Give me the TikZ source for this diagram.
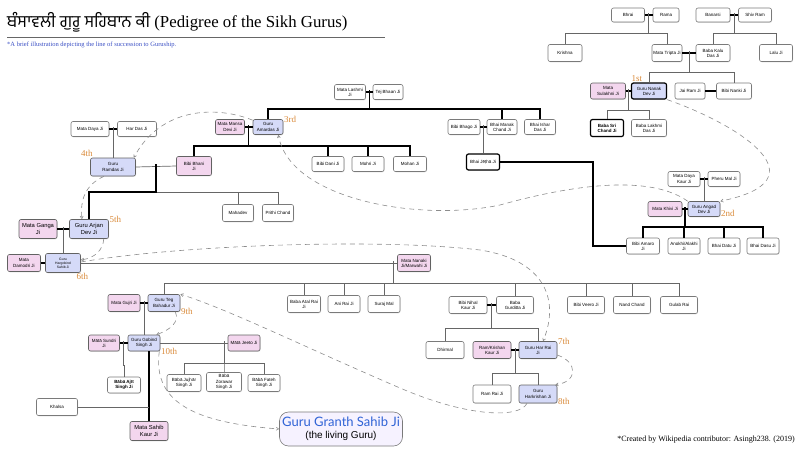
\documentclass[tikz,border=0pt]{standalone}
\usepackage{fontspec}
\setmainfont{Liberation Serif}
\setsansfont{Liberation Sans}
\newfontfamily\gurmukhi[Script=Gurmukhi]{Hind Jalandhar}
\newfontfamily\granthfont{Lato}
\usetikzlibrary{arrows.meta, calc, shadows}
\definecolor{wifefill}{HTML}{F3D6EE}
\definecolor{gurufill}{HTML}{D5DAF8}
\definecolor{boxline}{HTML}{7A7A7A}
\definecolor{ordinal}{HTML}{D98A3A}
\definecolor{subblue}{HTML}{3A4FC4}
\definecolor{granthblue}{HTML}{2F63D6}
\definecolor{granthfill}{HTML}{F6F2FF}
% children hang from a drop point (#2) on a bar at height #3
\newcommand{\kids}[4][rel]{%
  \foreach \kid in {#4}{\draw[#1] (\kid.north) |- (#2 |- 0,#3) -- ([yshift=2.5pt]#2);}}
\tikzset{
  person/.style={draw=boxline, line width=0.6pt, rounded corners=2pt, fill=white,
    font=\sffamily\fontsize{4.5}{5.2}\selectfont, align=center, inner sep=1pt,
    minimum width=33pt, minimum height=16pt,
    drop shadow={opacity=0.25, shadow xshift=0.5pt, shadow yshift=-0.8pt}},
  wife/.style={person, fill=wifefill, draw=boxline!80!black},
  guru/.style={person, fill=gurufill, draw=boxline!80!black},
  heavy/.style={line width=1.2pt, draw=black},
  big/.style={font=\sffamily\fontsize{5.8}{6.8}\selectfont},
  rel/.style={draw=black!60, line width=0.7pt},
  relthick/.style={draw=black, line width=1.3pt},
  wed/.style={draw=black, line width=1.4pt},
  succ/.style={draw=black!45, line width=0.6pt, dash pattern=on 5pt off 4pt,
    -{Straight Barb[length=2.5pt, width=3pt]}},
  ord/.style={text=ordinal, font=\fontsize{9}{9}\selectfont, inner sep=0.5pt}
}
\begin{document}
\begin{tikzpicture}[x=1pt, y=-1pt]
  \useasboundingbox (0,0) rectangle (800,450);
  % heading
  \node[anchor=base west, inner sep=0, font=\fontsize{16.8}{18}\selectfont] (title) at (7,27)
    {{\gurmukhi ਬੰਸਾਵਲੀ ਗੁਰੂ ਸਹਿਬਾਨ ਕੀ} (Pedigree of the Sikh Gurus)};
  \draw[black!60, line width=0.5pt] (7,37) -- (385,37);
  \node[anchor=base west, inner sep=0, text=subblue, font=\fontsize{6.5}{7}\selectfont] (subtitle) at (7,46)
    {*A brief illustration depicting the line of succession to Guruship.};
  \node[anchor=base east, inner sep=0, font=\fontsize{8}{9}\selectfont] (credit) at (795,441)
    {*Created by Wikipedia contributor: Asingh238. (2019)};

  % plain relatives
  \foreach \n/\x/\y/\w/\h/\t in {
      bhrai/628/15/33/14/Bhrai, rama/666/15/26/14/Rama,
      banarsi/713/15/34/14/Banarsi, shivram/755/15/33/14/Shiv Ram,
      krishna/565/53/34/17/Krishna, tripta/667/53/30/17/Mata Tripta Ji,
      lalu/776/53/33/17/Lalu Ji, jairam/690/91/30/16/Jai Ram Ji,
      nanki/734/91/35/16/Bibi Nanki Ji, tejbhaan/388/92/30/15/Tej Bhaan Ji,
      bhago/464/127/32/15/Bibi Bhago Ji, dani/328/164/32/15/Bibi Dani Ji,
      mohri/368/164/32/15/Mohri Ji, mohan/410/164/33/15/Mohan Ji,
      daya/90/129/38/15/Mata Daya Ji, hardas/137/129/39/15/Har Das Ji,
      mahadev/238/213/31/17/Mahadev, prithi/278/213/31/17/Prithi Chand,
      pheru/724/179/32/15/Pheru Mal Ji, datu/724/246/32/16/Bhai Datu Ji,
      dasu/763/246/32/16/Bhai Dasu Ji, anirai/344/304/32/17/Ani Rai Ji,
      suraj/384/304/32/17/Suraj Mal, veero/586/305/37/17/Bibi Veero Ji,
      nandchand/632/305/37/17/Nand Chand, gulab/679/305/37/17/Gulab Rai,
      dhirmal/445/350/38/17/Dhirmal, ramrai/492/394/38/18/Ram Rai Ji,
      khalsa/57/407/41/17/Khalsa}
    \node[person, minimum width=\w pt, minimum height=\h pt] (\n) at (\x,\y) {\t};
  \node[person, minimum width=34pt, minimum height=17pt] (kalu) at (713,53) {Baba Kalu\\Das Ji};
  \node[person, minimum width=33pt, minimum height=17pt, heavy, font=\sffamily\bfseries\fontsize{4.5}{5.2}\selectfont]
    (srichand) at (607,128) {Baba Sri\\Chand Ji};
  \node[person, minimum width=35pt, minimum height=17pt] (lakhmi) at (649,128) {Baba Lakhmi\\Das Ji};
  \node[person, minimum width=31pt, minimum height=15pt] (lakshmi) at (350,92) {Mata Lashmi\\Ji};
  \node[person, minimum width=30pt, minimum height=15pt] (manak) at (502,127) {Bhai Manak\\Chand Ji};
  \node[person, minimum width=31pt, minimum height=15pt] (ishar) at (540,127) {Bhai Ishar\\Das Ji};
  \node[person, heavy] (jetha) at (483,162) {Bhai Jēṭhā Ji};
  \node[person, minimum width=32pt, minimum height=15pt] (dayakaur) at (684,179) {Mata Daya\\Kaur Ji};
  \node[person] (amaro) at (643,246) {Bibi Amaro\\Ji};
  \node[person, minimum width=32pt] (anokhi) at (684,246) {Anokhi/Alakhi\\Ji};
  \node[person, minimum height=17pt] (atal) at (304,304) {Baba Atal Rai\\Ji};
  \node[person, minimum width=38pt, minimum height=17pt] (nihal) at (468,305) {Bibi Nihal\\Kaur Ji};
  \node[person, minimum width=37pt, minimum height=17pt] (gurditta) at (515,305) {Baba\\Gurditta Ji};
  \node[person, minimum height=16pt, font=\sffamily\bfseries\fontsize{4.5}{5.2}\selectfont] (ajit) at (124,385) {Bābā Ajīt\\Singh Ji};
  \node[person, minimum width=34pt, minimum height=17pt] (jujhar) at (184,383) {Bābā Jujhār\\Singh Ji};
  \node[person, minimum width=35pt, minimum height=19pt] (zorawar) at (224,382) {Bābā\\Zorawar\\Singh Ji};
  \node[person, minimum width=32pt, minimum height=17pt] (fateh) at (264,383) {Bābā Fateh\\Singh Ji};

  % wives
  \node[wife, minimum width=35pt] (sulakhni) at (608,91) {Mata\\Sulakhni Ji};
  \node[wife, minimum width=29pt, minimum height=15pt] (mansa) at (230,127) {Mata Mansa\\Devi Ji};
  \node[wife, minimum width=35pt, minimum height=19pt] (bhani) at (194,166) {Bibi Bhani\\Ji};
  \node[wife, minimum width=34pt, minimum height=15pt] (khivi) at (665,209) {Mata Khivi Ji};
  \node[wife, big, minimum width=38pt, minimum height=19pt] (ganga) at (38,229) {Mata Ganga\\Ji};
  \node[wife, minimum height=17pt] (damodri) at (24,263) {Mata\\Damodri Ji};
  \node[wife, minimum height=17pt] (nanaki) at (414,263) {Mata Nanaki\\Ji/Marwahi Ji};
  \node[wife, minimum width=32pt, minimum height=17pt] (gujri) at (124,303) {Mata Gujri Ji};
  \node[wife, minimum width=38pt, minimum height=17pt] (krishankaur) at (492,350) {Ram/Krishan\\Kaur Ji};
  \node[wife, minimum width=31pt] (sundri) at (104,343) {Mātā Sundri\\Ji};
  \node[wife, minimum width=32pt] (jeeto) at (244,343) {Mātā Jeeto Ji};
  \node[wife, big, minimum width=38pt, minimum height=19pt] (sahib) at (149,431) {Mata Sahib\\Kaur Ji};

  % the ten gurus
  \node[guru, heavy, minimum width=35pt] (nanak) at (649,91) {Guru Nanak\\Dev Ji};
  \node[guru, minimum width=32pt, minimum height=15pt] (angad) at (704,209) {Guru Angad\\Dev Ji};
  \node[guru, minimum width=30pt, minimum height=15pt] (amardas) at (268,127) {Guru\\Amardas Ji};
  \node[guru, minimum width=45pt, minimum height=18pt] (ramdas) at (113,167) {Guru\\Ramdas Ji};
  \node[guru, big, minimum width=39pt, minimum height=19pt] (arjan) at (89,229) {Guru Arjan\\Dev Ji};
  \node[guru, minimum width=35pt, minimum height=19pt, font=\sffamily\fontsize{3.4}{4.1}\selectfont]
    (hargobind) at (63,263) {Guru\\Hargobind\\Sahib Ji};
  \node[guru, minimum width=38pt, minimum height=17pt] (harrai) at (538,350) {Guru Har Rai\\Ji};
  \node[guru, minimum width=38pt, minimum height=18pt] (harkrishan) at (538,394) {Guru\\Harkrishan Ji};
  \node[guru, minimum width=32pt, minimum height=17pt] (tegh) at (164,303) {Guru Teg\\Bahadur Ji};
  \node[guru, minimum width=32pt] (gobind) at (144,343) {Guru Gobind\\Singh Ji};
  \node[draw=boxline, line width=0.6pt, rounded corners=9pt, fill=granthfill, align=center,
    minimum width=123pt, minimum height=34pt, inner sep=1pt] (granth) at (341,429)
    {{\granthfont\fontsize{13}{14}\selectfont\color{granthblue}Guru Granth Sahib Ji}\\
     {\sffamily\fontsize{10}{10}\selectfont(the living Guru)}};

  \node[ord, anchor=south west] at (nanak.north west) {1st};
  \node[ord, anchor=west] at ([yshift=-4pt]angad.east) {2nd};
  \node[ord, anchor=west] at (amardas.north east) {3rd};
  \node[ord, anchor=south east] at ([xshift=3pt]ramdas.north west) {4th};
  \node[ord, anchor=west] at (arjan.north east) {5th};
  \node[ord, anchor=north east] at ([xshift=8pt]hargobind.south east) {6th};
  \node[ord, anchor=west] at (harrai.north east) {7th};
  \node[ord, anchor=west] at ([yshift=2pt]harkrishan.south east) {8th};
  \node[ord, anchor=west] at (tegh.south east) {9th};
  \node[ord, anchor=west] at (gobind.south east) {10th};

  % marriages
  \foreach \a/\b in {bhrai/rama, banarsi/shivram, tripta/kalu, sulakhni/nanak, jairam/nanki,
      lakshmi/tejbhaan, mansa/amardas, bhago/manak, daya/hardas,
      dayakaur/pheru, khivi/angad, ganga/arjan, damodri/hargobind,
      gujri/tegh, sundri/gobind, nihal/gurditta, krishankaur/harrai}
    \draw[wed] (\a.east) -- (\b.west);
  \foreach \a/\b in {ramdas/bhani, hargobind/nanaki, gobind/jeeto}
    \draw[rel] (\a.east) -- (\b.west);
  \foreach \a/\b/\m in {bhrai/rama/mBR, banarsi/shivram/mBS, tripta/kalu/mTK,
      sulakhni/nanak/mSN, lakshmi/tejbhaan/mLT, mansa/amardas/mMA, bhago/manak/mBM,
      daya/hardas/mDH, ramdas/bhani/mRB, dayakaur/pheru/mDP, khivi/angad/mKA,
      ganga/arjan/mGA, gujri/tegh/mGT, sundri/gobind/mSG, nihal/gurditta/mNG,
      krishankaur/harrai/mKH}
    \coordinate (\m) at ($(\a.east)!.5!(\b.west)$);
  \coordinate (mHN) at ([xshift=-4pt]nanaki.west);
  \coordinate (mGJ) at (zorawar.north |- jeeto.west);

  % descent
  \kids{mBR}{33}{krishna, tripta}
  \kids{mBS}{33}{kalu, lalu}
  \kids{mTK}{72}{nanak, nanki}
  \kids{mSN}{110}{srichand, lakhmi}
  \kids[relthick]{mLT}{109}{amardas, manak, ishar}
  \kids{mBM}{145}{jetha}
  \kids[relthick]{mMA}{146}{bhani, dani, mohri, mohan}
  \kids{mDH}{145}{ramdas}
  \kids{mRB}{192}{mahadev, prithi}
  \kids[relthick]{mRB}{192}{arjan}
  \kids{mDP}{195}{angad}
  \kids[relthick]{mKA}{227}{amaro, anokhi, datu, dasu}
  \kids{mGA}{245}{hargobind}
  \kids{mHN}{283}{tegh, atal, anirai, suraj, gurditta, veero, nandchand, gulab}
  \kids{mNG}{328}{dhirmal, harrai}
  \kids{mKH}{373}{ramrai, harkrishan}
  \kids{mGT}{323}{gobind}
  \kids{mSG}{365}{ajit}
  \kids{mGJ}{363}{jujhar, zorawar, fateh}
  \draw[relthick] (jetha.east) -- ++(93pt,0) |- (amaro.west);
  \draw[relthick] (gobind.south -| sahib.north) -- (sahib.north);
  \draw[rel] (khalsa.east) -- (khalsa.east -| sahib.north);

  % line of succession
  \draw[succ] (nanak.south east) .. controls (740,125) and (825,180) .. (angad.north east);
  \draw[succ] (angad.north west) .. controls (655,178) and (590,180) .. (500,205)
    .. controls (420,222) and (290,200) .. ([xshift=-5pt]amardas.south east);
  \draw[succ] ([yshift=-1pt]amardas.north west) .. controls (215,105) and (160,108) .. ([xshift=-2pt]ramdas.north east);
  \draw[succ] ([xshift=-9pt]ramdas.south) .. controls (85,185) and (80,200) .. ([xshift=-7pt]arjan.north);
  \draw[succ] ([xshift=-5pt]arjan.south east) .. controls (103,250) and (95,258) .. ([yshift=3pt]hargobind.east);
  \draw[succ] ([yshift=1pt]hargobind.east) .. controls (180,245) and (380,238) .. (480,250)
    .. controls (545,260) and (560,300) .. ([xshift=5pt]harrai.north);
  \draw[succ] ([yshift=-5pt]harrai.east) .. controls (578,362) and (578,382) .. ([xshift=-2pt]harkrishan.north east);
  \draw[succ] ([xshift=-11pt]harkrishan.south) .. controls (520,418) and (470,418) .. (400,388)
    .. controls (300,345) and (230,310) .. (tegh.north east);
  \draw[succ] ([xshift=-5pt]tegh.south east) .. controls (180,322) and (170,330) .. ([xshift=-4pt]gobind.north east);
  \draw[succ] ([xshift=-1pt]gobind.south east) .. controls (152,405) and (200,423) .. (granth.west);
\end{tikzpicture}
\end{document}
